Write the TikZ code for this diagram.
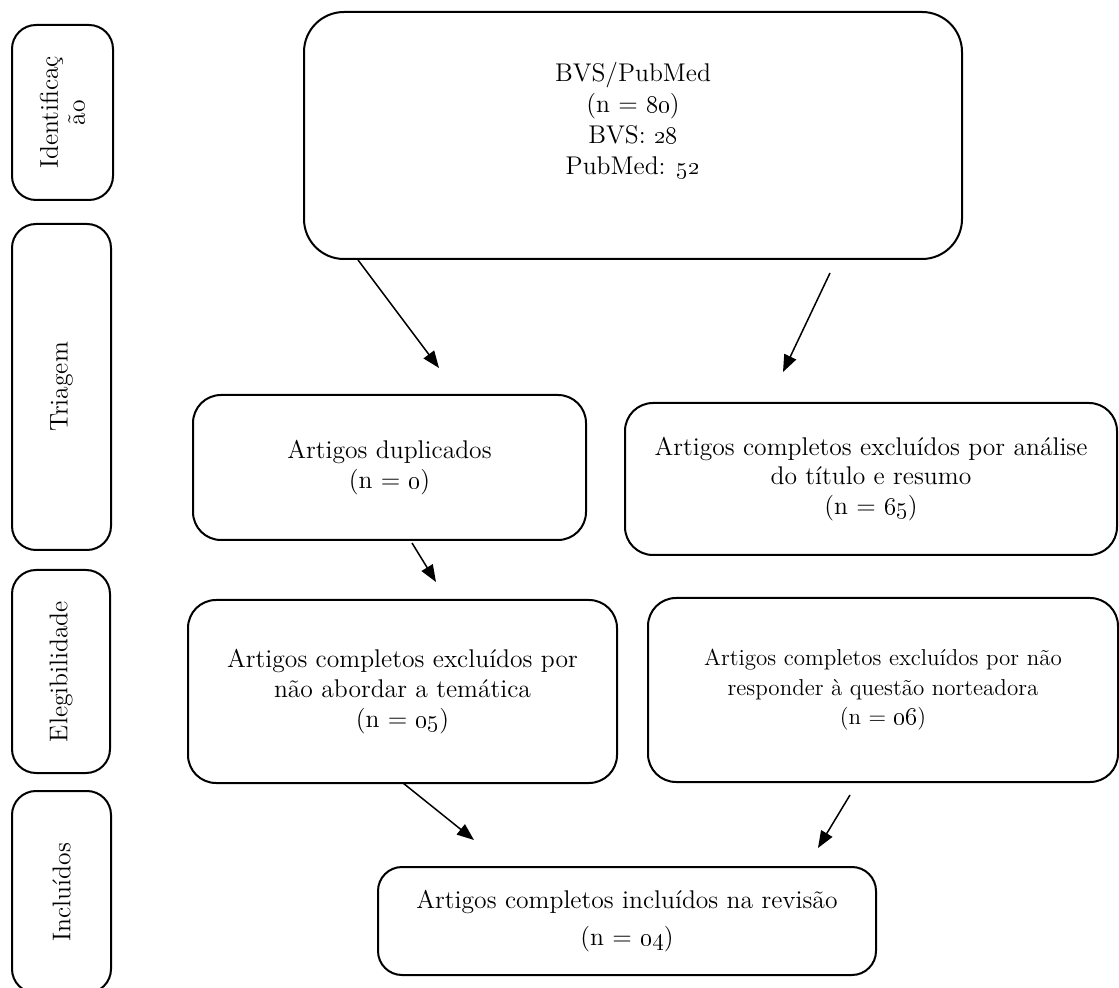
\documentclass[tikz,border=0pt]{standalone}
\usetikzlibrary{arrows.meta}
\begin{document}
\begin{tikzpicture}[x=0.5pt,y=-0.5pt,
  box/.style={draw, line width=1pt, rounded corners=14pt, align=center, inner sep=0pt,
    font=\fontsize{12.8}{14.8}\selectfont},
  sidebox/.style={draw, line width=1pt, rounded corners=12pt, align=center, inner sep=0pt,
    rotate=90, font=\fontsize{12.8}{13.5}\selectfont},
  txt/.style={align=center, inner sep=0pt},
  arr/.style={line width=0.75pt, -{Triangle[length=8.5pt,width=6.5pt]}}
]
\useasboundingbox (0,0) rectangle (1119,988);

% phase labels
\node[sidebox, minimum width=87.5pt, minimum height=50.5pt] (s1) at (62.5,112.5) {Identificaç\\ão};
\node[sidebox, minimum width=163pt, minimum height=49.5pt] (s2) at (61.5,387) {Triagem};
\node[sidebox, minimum width=101.5pt, minimum height=49pt] (s3) at (61,671.5) {Elegibilidade};
\node[sidebox, minimum width=101pt, minimum height=49.5pt] (s4) at (61.5,892) {Incluídos};

% source box
\node[box, rounded corners=20pt, minimum width=329pt, minimum height=123.5pt] (src) at (633,135.5) {};
\node[txt, font=\fontsize{12.8}{15.5}\selectfont] (srct) at (633,121) {BVS/PubMed\\(n = \oldstylenums{80})\\BVS: \oldstylenums{28}\\PubMed: \oldstylenums{52}};

% screening
\node[box, minimum width=196.5pt, minimum height=72.5pt] (dup) at (389.5,467.5) {Artigos duplicados\\(n = \oldstylenums{0})};
\node[box, minimum width=246pt, minimum height=76pt] (exc1) at (871,479) {Artigos completos excluídos por análise\\do título e resumo\\(n = \oldstylenums{65})};

% eligibility
\node[box, minimum width=214.5pt, minimum height=91.5pt] (exc2) at (402.5,691.5) {Artigos completos excluídos por\\não abordar a temática\\(n = \oldstylenums{05})};
\node[box, minimum width=235pt, minimum height=92pt, font=\fontsize{11.5}{14.8}\selectfont] (exc3) at (883,690) {Artigos completos excluídos por não\\responder à questão norteadora\\(n = \oldstylenums{06})};

% included
\node[box, rounded corners=12pt, minimum width=249pt, minimum height=54pt, font=\fontsize{12.8}{18.5}\selectfont] (inc) at (627,921) {Artigos completos incluídos na revisão\\(n = \oldstylenums{04})};

% arrow end points (free-floating arrows)
\coordinate (a1s) at (358,260);  \coordinate (a1e) at (439,368);
\coordinate (a2s) at (830,273);  \coordinate (a2e) at (783,372);
\coordinate (a3s) at (412,543);  \coordinate (a3e) at (436,582);
\coordinate (a4s) at (403,783);  \coordinate (a4e) at (474,840);
\coordinate (a5s) at (850,795);  \coordinate (a5e) at (818,848);

\draw[arr] (a1s) -- (a1e);
\draw[arr] (a2s) -- (a2e);
\draw[arr] (a3s) -- (a3e);
\draw[arr] (a4s) -- (a4e);
\draw[arr] (a5s) -- (a5e);
\end{tikzpicture}
\end{document}
